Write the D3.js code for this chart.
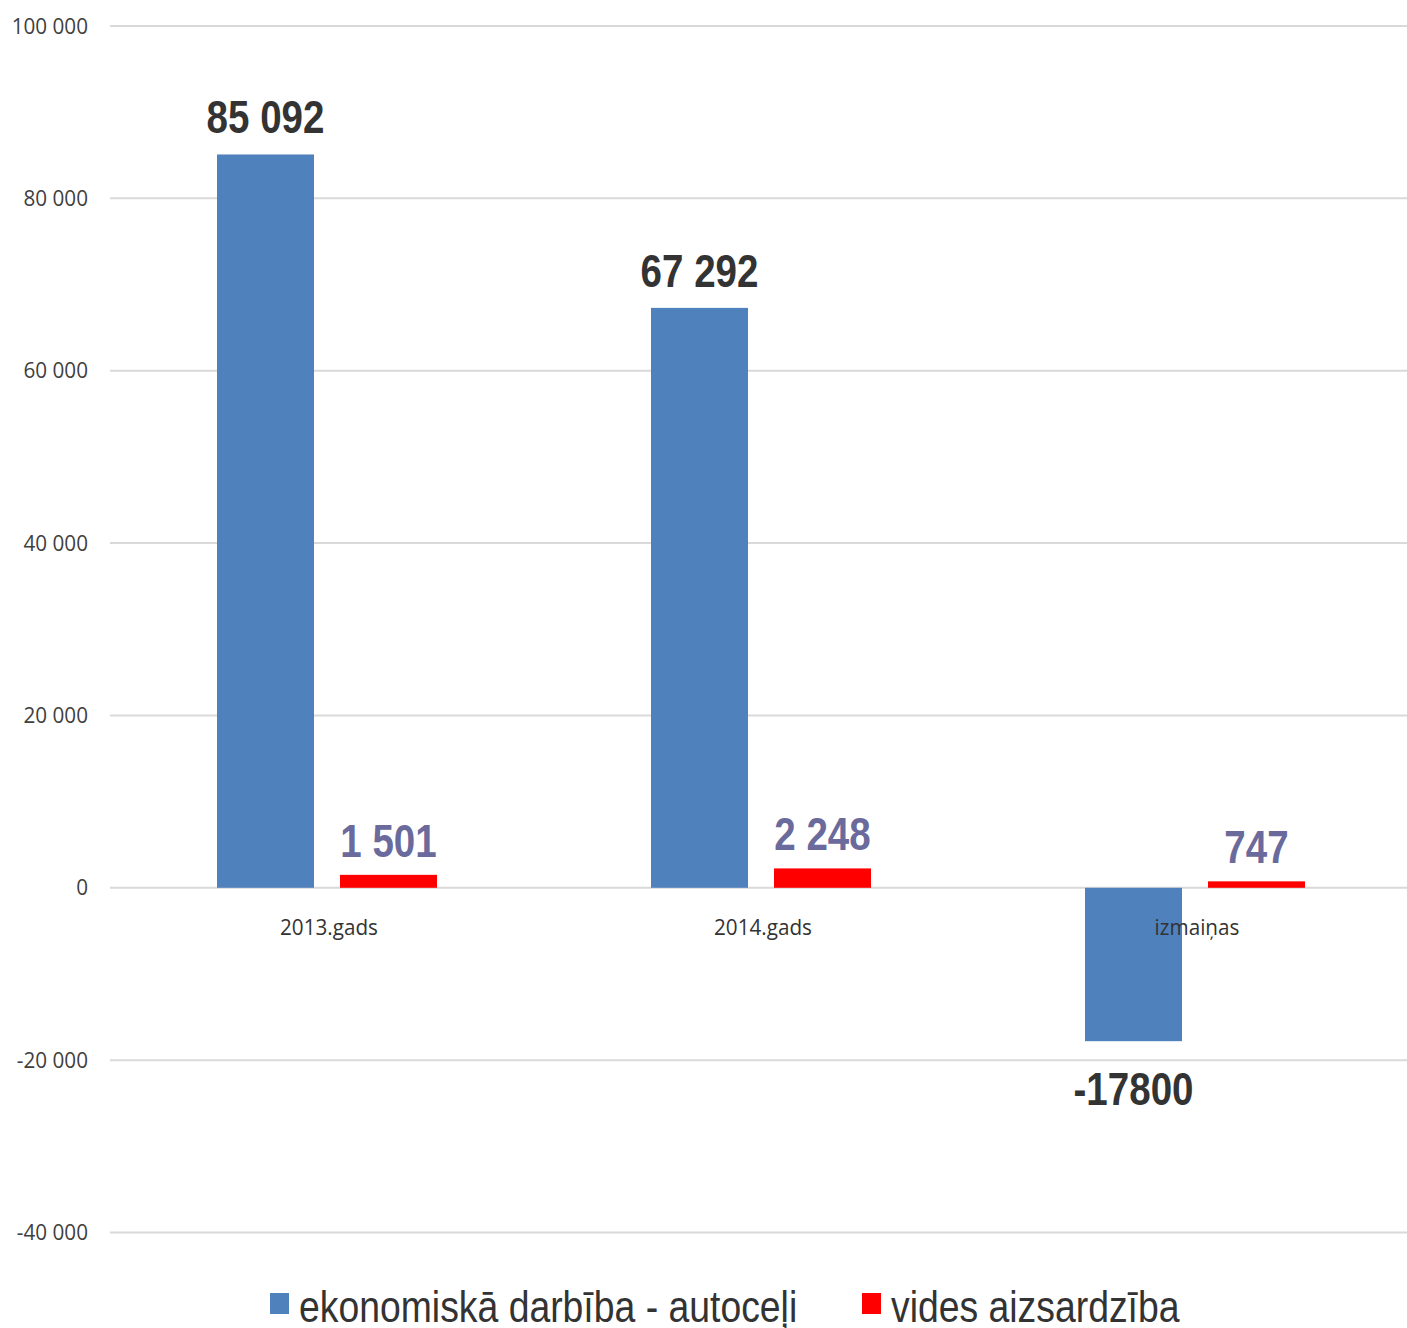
<!DOCTYPE html>
<html>
<head>
<meta charset="utf-8">
<script src="https://cdn.jsdelivr.net/npm/d3@7"></script>
<style>
  html, body { margin: 0; padding: 0; background: #fff; }
  svg { display: block; }
  .narrow { font-family: "Liberation Sans", Arial, sans-serif; }
  .tick-font { font-family: "Open Sans", "DejaVu Sans Condensed", sans-serif; }
</style>
</head>
<body>
<div id="chart"></div>
<script>
const categories = ["2013.gads", "2014.gads", "izmaiņas"];
const seriesNames = ["ekonomiskā darbība - autoceļi", "vides aizsardzība"];
const roadsValues = [85092, 67292, -17800];
const envValues = [1501, 2248, 747];
const roadsLabels = ["85 092", "67 292", "-17800"];
const envLabels = ["1 501", "2 248", "747"];
const yTicks = [-40000, -20000, 0, 20000, 40000, 60000, 80000, 100000];
const yTickLabels = ["-40 000", "-20 000", "0", "20 000", "40 000", "60 000", "80 000", "100 000"];
const colors = ["#4f81bd", "#ff0000"];
const labelColors = ["#333333", "#6a6a9c"];

const W = 1407, H = 1328;
const NARROW = 0.82;
const svg = d3.select("#chart").append("svg").attr("width", W).attr("height", H);

const y = d3.scaleLinear().domain([-40000, 100000]).range([1232.5, 26]);
const x0 = d3.scaleBand().domain(categories).range([110, 1412]).padding(0);
const x1 = d3.scaleBand().domain(seriesNames)
  .range([x0.bandwidth() / 2 - 110, x0.bandwidth() / 2 + 110])
  .paddingInner(26 / 123).paddingOuter(0);

// gridlines
svg.append("g").selectAll("line").data(yTicks).join("line")
  .attr("x1", 110).attr("x2", W)
  .attr("y1", d => y(d)).attr("y2", d => y(d))
  .attr("stroke", "#d9d9d9").attr("stroke-width", 2);

// y tick labels
svg.append("g").selectAll("text").data(yTicks).join("text")
  .attr("class", "tick-font")
  .attr("transform", d => `translate(88,${y(d)}) scale(0.94,1)`)
  .attr("dy", "0.35em")
  .attr("text-anchor", "end")
  .attr("font-size", 22)
  .attr("fill", "#404040")
  .text((d, i) => yTickLabels[i]);

const data = categories.map((c, i) => ({
  cat: c,
  vals: [
    { s: seriesNames[0], v: roadsValues[i], label: roadsLabels[i], k: 0 },
    { s: seriesNames[1], v: envValues[i], label: envLabels[i], k: 1 }
  ]
}));

const groups = svg.append("g").selectAll("g").data(data).join("g")
  .attr("transform", d => `translate(${x0(d.cat)},0)`);

groups.selectAll("rect").data(d => d.vals).join("rect")
  .attr("x", d => x1(d.s))
  .attr("width", x1.bandwidth())
  .attr("y", d => y(Math.max(0, d.v)))
  .attr("height", d => Math.abs(y(d.v) - y(0)))
  .attr("fill", d => colors[d.k]);

// category labels
svg.append("g").selectAll("text").data(categories).join("text")
  .attr("class", "tick-font")
  .attr("transform", d => `translate(${x0(d) + x0.bandwidth() / 2 + 2},${y(0) + 40}) scale(0.94,1)`)
  .attr("dy", "0.35em")
  .attr("text-anchor", "middle")
  .attr("font-size", 22)
  .attr("fill", "#333333")
  .text(d => d);

// value labels
groups.selectAll("text.val").data(d => d.vals).join("text")
  .attr("class", "val narrow")
  .attr("transform", d => {
    const cx = x1(d.s) + x1.bandwidth() / 2;
    const ty = d.v >= 0 ? y(d.v) - (d.k === 0 ? 21 : 18) : y(d.v) + 64;
    return `translate(${cx},${ty}) scale(${NARROW},1)`;
  })
  .attr("text-anchor", "middle")
  .attr("font-size", 47)
  .attr("font-weight", "bold")
  .attr("fill", d => labelColors[d.k])
  .text(d => d.label);

// legend
const legend = svg.append("g");
const legendItems = [
  { name: seriesNames[0], color: colors[0], x: 270 },
  { name: seriesNames[1], color: colors[1], x: 862 }
];
legendItems.forEach(it => {
  legend.append("rect").attr("x", it.x).attr("y", 1293).attr("width", 19).attr("height", 21).attr("fill", it.color);
  legend.append("text").attr("class", "narrow")
    .attr("transform", `translate(${it.x + 29},1322) scale(0.83,1)`)
    .attr("font-size", 45).attr("fill", "#333333")
    .text(it.name);
});
</script>
</body>
</html>
